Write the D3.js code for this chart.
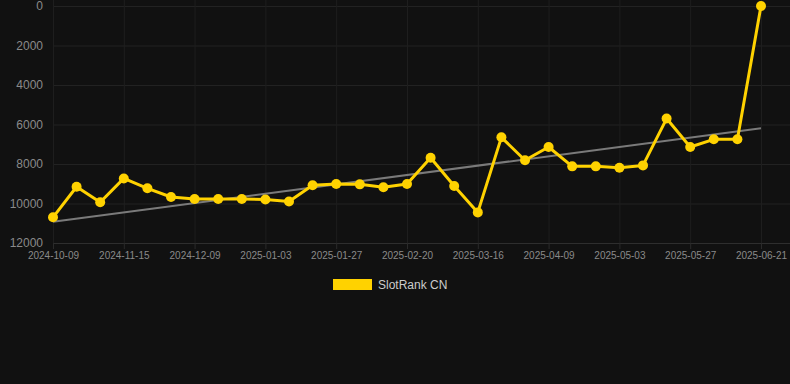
<!DOCTYPE html>
<html><head><meta charset="utf-8">
<script src="https://cdn.jsdelivr.net/npm/d3@7"></script>
<style>
html,body{margin:0;padding:0;background:#111111;}
svg{display:block;font-family:"Liberation Sans",Arial,Helvetica,sans-serif;}
</style></head>
<body><svg id="chart" width="790" height="384"></svg>
<script>
const dates = ["2024-10-09","2024-10-21","2024-11-03","2024-11-15","2024-11-23","2024-12-01","2024-12-09","2024-12-17","2024-12-25","2025-01-03","2025-01-11","2025-01-19","2025-01-27","2025-02-04","2025-02-12","2025-02-20","2025-02-28","2025-03-08","2025-03-16","2025-03-24","2025-04-01","2025-04-09","2025-04-17","2025-04-25","2025-05-03","2025-05-11","2025-05-19","2025-05-27","2025-06-04","2025-06-12","2025-06-21"];
const ranks = [10700,9150,9940,8730,9230,9670,9770,9770,9770,9800,9900,9080,9010,9030,9180,9010,7680,9110,10450,6650,7810,7140,8120,8120,8190,8070,5700,7140,6750,6750,0];
const trendDates = ["2024-10-09","2025-06-21"];
const trendValues = [10920,6190];
const tickLabels = ["2024-10-09","2024-11-15","2024-12-09","2025-01-03","2025-01-27","2025-02-20","2025-03-16","2025-04-09","2025-05-03","2025-05-27","2025-06-21"];
const yTicks = [0,2000,4000,6000,8000,10000,12000];
const seriesName = "SlotRank CN";

const svg = d3.select("#chart");
const mLeft = 53, mRight = 761, mTop = 6, mBottom = 243;
const x = d3.scalePoint().domain(dates).range([mLeft, mRight]);
const y = d3.scaleLinear().domain([0, 12000]).range([mTop, mBottom]);

// grid
const g = svg.append("g");
g.selectAll("line.hg").data(yTicks).join("line")
  .attr("x1", mLeft).attr("x2", 790).attr("y1", d => y(d)+0.5).attr("y2", d => y(d)+0.5)
  .attr("stroke", d => d === 12000 ? "#2e2e2e" : "#222222").attr("stroke-width", 1);
g.selectAll("line.vg").data(tickLabels).join("line")
  .attr("x1", d => x(d)+0.5).attr("x2", d => x(d)+0.5).attr("y1", 0).attr("y2", mBottom)
  .attr("stroke", "#1e1e1e").attr("stroke-width", 1);

// y axis
const yAxis = d3.axisLeft(y).tickValues(yTicks).tickSize(0).tickPadding(10).tickFormat(d3.format("d"));
const ya = svg.append("g").attr("transform", `translate(${mLeft},0)`).call(yAxis);
ya.select(".domain").remove();
ya.selectAll("text").attr("fill", "#8a8a8a").attr("font-size", 12).attr("font-family", "Liberation Sans, Arial, sans-serif");

// x axis
const xAxis = d3.axisBottom(x).tickValues(tickLabels).tickSize(6).tickPadding(3);
const xa = svg.append("g").attr("transform", `translate(0,${mBottom})`).call(xAxis);
xa.select(".domain").remove();
xa.selectAll("line").attr("stroke", "#2a2a2a");
xa.selectAll("text").attr("fill", "#8a8a8a").attr("font-size", 10).attr("font-family", "Liberation Sans, Arial, sans-serif");

// trend line
svg.append("path")
  .datum(trendDates.map((d, i) => [d, trendValues[i]]))
  .attr("fill", "none").attr("stroke", "#7a7a7a").attr("stroke-width", 2)
  .attr("d", d3.line().x(d => x(d[0])).y(d => y(d[1])));

// series
const data = dates.map((d, i) => ({d, v: ranks[i]}));
svg.append("path").datum(data)
  .attr("fill", "none").attr("stroke", "#FFD200").attr("stroke-width", 3).attr("stroke-linejoin", "round")
  .attr("d", d3.line().x(p => x(p.d)).y(p => y(p.v)));
svg.selectAll("circle.pt").data(data).join("circle")
  .attr("cx", p => x(p.d)).attr("cy", p => y(p.v)).attr("r", 5).attr("fill", "#FFD200");

// legend
const lg = svg.append("g");
lg.append("rect").attr("x", 333).attr("y", 279).attr("width", 39).attr("height", 11).attr("fill", "#FFD200");
lg.append("text").attr("x", 378).attr("y", 289).text(seriesName)
  .attr("fill", "#cccccc").attr("font-size", 12);
</script></body></html>
